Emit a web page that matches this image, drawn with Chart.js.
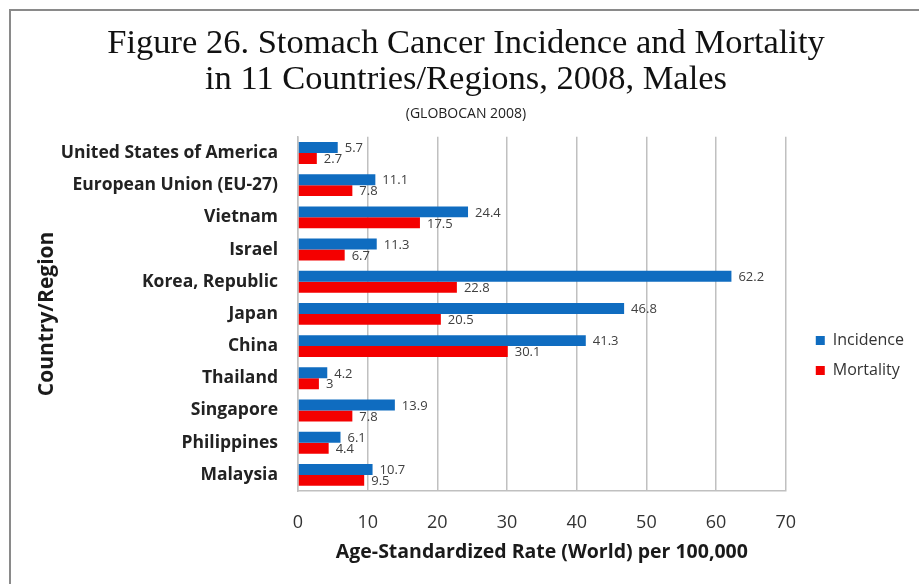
<!DOCTYPE html>
<html><head><meta charset="utf-8">
<script src="https://cdn.jsdelivr.net/npm/chart.js@4.4.1/dist/chart.umd.min.js"></script>
<style>
html,body{margin:0;padding:0;background:#fff;}
#wrap{position:relative;width:919px;height:584px;}
#frameTop{position:absolute;left:9px;top:9px;width:910px;height:2px;background:#8a8a8a;}
#frameLeft{position:absolute;left:9px;top:9px;width:2px;height:575px;background:#8a8a8a;}
</style></head>
<body>
<div id="wrap"><canvas id="c" width="919" height="584"></canvas><div id="frameTop"></div><div id="frameLeft"></div></div>
<script>
const categories = ["United States of America","European Union (EU-27)","Vietnam","Israel","Korea, Republic","Japan","China","Thailand","Singapore","Philippines","Malaysia"];
const incidence = [5.7, 11.1, 24.4, 11.3, 62.2, 46.8, 41.3, 4.2, 13.9, 6.1, 10.7];
const mortality = [2.7, 7.8, 17.5, 6.7, 22.8, 20.5, 30.1, 3, 7.8, 4.4, 9.5];
const xTicks = [0,10,20,30,40,50,60,70];

const labelPlugin = {
  id: 'barLabels',
  afterDatasetsDraw(chart) {
    const ctx = chart.ctx;
    ctx.save();
    ctx.font = '13px "Open Sans", sans-serif';
    ctx.fillStyle = '#404040';
    ctx.textBaseline = 'middle';
    ctx.textAlign = 'left';
    chart.data.datasets.forEach((ds, i) => {
      const meta = chart.getDatasetMeta(i);
      meta.data.forEach((el, j) => {
        ctx.fillText(String(ds.data[j]), el.x + 7, el.y + 1);
      });
    });
    ctx.restore();
  }
};

const legendShift = {
  id: 'legendShift',
  afterLayout(chart) {
    const lg = chart.legend;
    if (!lg) return;
    const dx = 16, dy = 66;
    lg.left += dx; lg.right += dx;
    lg.top += dy; lg.bottom += dy;
  }
};

new Chart(document.getElementById('c'), {
  type: 'bar',
  data: {
    labels: categories,
    datasets: [
      {label: 'Incidence', data: incidence, backgroundColor: '#0F6CC0', borderWidth: 0},
      {label: 'Mortality', data: mortality, backgroundColor: '#F40000', borderWidth: 0}
    ]
  },
  options: {
    indexAxis: 'y',
    responsive: false,
    animation: false,
    layout: {padding: {left: 34, right: 21, top: 8, bottom: 13}},
    datasets: {bar: {categoryPercentage: 0.68, barPercentage: 1.0}},
    scales: {
      x: {
        min: 0, max: 70,
        afterBuildTicks(scale){ scale.ticks = xTicks.map(v => ({value: v})); },
        afterFit(scale){ scale.height = 80; },
        grid: {color: '#c0c0c0', lineWidth: 1.5, drawTicks: false},
        border: {color: '#c0c0c0', width: 1.5},
        ticks: {font: {family: 'Open Sans', size: 18}, color: '#333', padding: 21},
        title: {display: true, text: 'Age-Standardized Rate (World) per 100,000', font: {family: 'Open Sans', size: 19.5, weight: 'bold'}, color: '#1a1a1a', padding: {top: 4, bottom: 7}}
      },
      y: {
        afterFit(scale){ scale.width = 264; },
        grid: {display: false, drawTicks: false},
        border: {color: '#c0c0c0', width: 1.5},
        ticks: {font: {family: 'Open Sans', size: 17.5, weight: 'bold'}, color: '#222', padding: 20},
        title: {display: true, text: 'Country/Region', font: {family: 'Open Sans', size: 21, weight: 'bold'}, color: '#1a1a1a', padding: {top: 0, bottom: 0}}
      }
    },
    plugins: {
      title: {display: true, text: ['Figure 26. Stomach Cancer Incidence and Mortality','in 11 Countries/Regions, 2008, Males'], font: {family: 'Liberation Serif', size: 34.5, weight: 'normal', lineHeight: 1.05}, color: '#111', padding: {top: 18, bottom: 2}},
      subtitle: {display: true, text: '(GLOBOCAN 2008)', font: {family: 'Open Sans', size: 14, lineHeight: 1.2}, color: '#222', padding: {top: 5, bottom: 14.6}},
      legend: {position: 'right', labels: {boxWidth: 9, boxHeight: 9, font: {family: 'Open Sans', size: 16}, color: '#333', padding: 14}},
      tooltip: {enabled: false}
    }
  },
  plugins: [labelPlugin, legendShift]
});
</script>
</body></html>
